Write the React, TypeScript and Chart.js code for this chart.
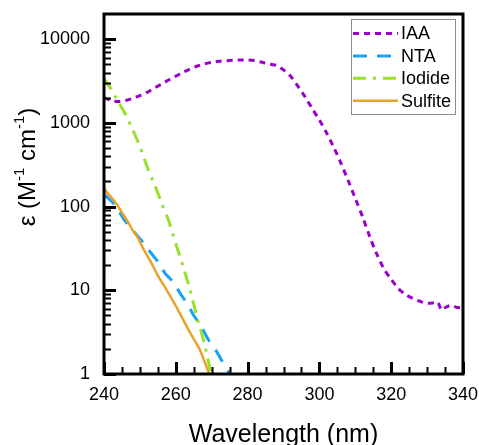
import React, { useEffect, useRef } from 'react';
import { Chart, registerables } from 'chart.js';

Chart.register(...registerables);

const FONT = '"Liberation Sans", Arial, Helvetica, sans-serif';

// ---- data ----
const iaaWavelength = [240, 242, 244, 246, 248, 250, 252, 254, 256, 258, 260, 262, 264, 266, 268, 270, 272, 274, 276, 278, 280, 282, 284, 286, 288, 290, 292, 294, 296, 298, 300, 302, 304, 306, 308, 310, 312, 314, 316, 318, 320, 322, 324, 326, 328, 330, 332, 333, 334, 335, 336, 337, 338, 340];
const iaaEpsilon = [2000, 1850, 1800, 1850, 1970, 2120, 2320, 2600, 2900, 3250, 3620, 4020, 4420, 4780, 5080, 5300, 5440, 5530, 5600, 5640, 5650, 5550, 5300, 5050, 4870, 4300, 3600, 2750, 2050, 1480, 1080, 760, 510, 330, 205, 125, 76, 44, 27, 18, 13.5, 10.5, 8.9, 8.0, 7.4, 7.0, 7.1, 7.2, 5.8, 6.2, 6.5, 6.6, 6.3, 6.1];

const ntaWavelength = [240, 241, 243, 245.6, 248, 250.3, 252, 255, 257, 259.5, 261, 263.2, 265, 267.4, 269, 271.2, 273, 275];
const ntaEpsilon = [140, 128, 105, 70, 52, 40, 32, 22, 16, 12.3, 9.5, 6.9, 5, 3.5, 2.6, 1.9, 1.4, 1.0];

const iodideWavelength = [240, 242, 244, 246, 248, 250, 252, 254, 256, 258, 260, 262, 264, 266, 268, 269.8];
const iodideEpsilon = [3390, 2510, 1780, 1260, 830, 525, 300, 186, 112, 68, 36, 19.5, 10, 4.6, 2.3, 1.0];

const sulfiteWavelength = [240, 241, 243, 245, 247, 248, 249.5, 251, 253, 255, 257.5, 260, 262, 264, 266.7, 269.3];
const sulfiteEpsilon = [165, 145, 115, 85, 62, 52, 42, 31, 22, 15, 10, 6.5, 4.5, 3.1, 1.95, 1.0];

const seriesLabels = ['IAA', 'NTA', 'Iodide', 'Sulfite'];
const xTickValues = [240, 260, 280, 300, 320, 340];
const yTickValues = [1, 10, 100, 1000, 10000];
const xMin = 240;
const xMax = 340;
const yMin = 1;
const yMax = 20000;
const xMinorStep = 5;

const xTitle = 'Wavelength (nm)';

const toPoints = (xs: number[], ys: number[]) => xs.map((x, i) => ({ x, y: ys[i] }));

const decorPlugin = {
  id: 'decor',
  afterDatasetsDraw(chart: any) {
    const { ctx, chartArea: a, scales } = chart;
    const xs = scales.x;
    const ys = scales.y;
    ctx.save();
    ctx.strokeStyle = '#000';
    ctx.lineCap = 'butt';
    // x ticks (inward)
    for (let v = xMin; v <= xMax; v += xMinorStep) {
      const px = Math.round(xs.getPixelForValue(v)) + 0.5;
      const major = xTickValues.includes(v);
      ctx.lineWidth = major ? 3 : 2;
      ctx.beginPath();
      ctx.moveTo(px, a.bottom);
      ctx.lineTo(px, a.bottom - (major ? 12 : 7));
      ctx.stroke();
    }
    // y ticks (inward, log minors)
    for (const d of yTickValues) {
      for (let m = 1; m <= 9; m++) {
        const v = d * m;
        if (v >= yMax) break;
        const py = Math.round(ys.getPixelForValue(v)) + 0.5;
        const major = m === 1;
        ctx.lineWidth = major ? 3 : 2;
        ctx.beginPath();
        ctx.moveTo(a.left, py);
        ctx.lineTo(a.left + (major ? 12 : 7), py);
        ctx.stroke();
      }
    }
    // frame
    ctx.lineWidth = 3;
    ctx.strokeRect(a.left, a.top, a.right - a.left, a.bottom - a.top);

    // x title
    ctx.fillStyle = '#000';
    ctx.font = `25px ${FONT}`;
    ctx.textAlign = 'center';
    ctx.textBaseline = 'alphabetic';
    ctx.fillText(xTitle, (a.left + a.right) / 2, 442);

    // y title with superscripts
    const parts: { t: string; sup: boolean }[] = [
      { t: 'ε (M', sup: false },
      { t: '-1', sup: true },
      { t: ' cm', sup: false },
      { t: '-1', sup: true },
      { t: ')', sup: false },
    ];
    const mainFont = `24px ${FONT}`;
    const supFont = `15px ${FONT}`;
    let total = 0;
    for (const p of parts) {
      ctx.font = p.sup ? supFont : mainFont;
      total += ctx.measureText(p.t).width;
    }
    ctx.save();
    ctx.translate(35, 167);
    ctx.rotate(-Math.PI / 2);
    ctx.textAlign = 'left';
    let cx = -total / 2;
    for (const p of parts) {
      ctx.font = p.sup ? supFont : mainFont;
      ctx.fillText(p.t, cx, p.sup ? -11 : 0);
      cx += ctx.measureText(p.t).width;
    }
    ctx.restore();

    // legend
    const bw = 104;
    const bh = 95;
    const bx = a.right - 8 - bw;
    const by = a.top + 5;
    ctx.fillStyle = '#fff';
    ctx.fillRect(bx, by, bw, bh);
    ctx.strokeStyle = '#8c8c8c';
    ctx.lineWidth = 1;
    ctx.strokeRect(bx + 0.5, by + 0.5, bw, bh);
    chart.data.datasets.forEach((ds: any, i: number) => {
      const ry = by + 14.5 + i * 22.4;
      ctx.save();
      ctx.strokeStyle = ds.borderColor;
      ctx.lineWidth = ds.borderWidth;
      ctx.setLineDash(ds.borderDash || []);
      ctx.beginPath();
      ctx.moveTo(bx + 2, ry);
      ctx.lineTo(bx + 47, ry);
      ctx.stroke();
      ctx.restore();
      ctx.fillStyle = '#000';
      ctx.font = `18px ${FONT}`;
      ctx.textAlign = 'left';
      ctx.textBaseline = 'middle';
      ctx.fillText(ds.label, bx + 50, ry + 1);
    });
    ctx.restore();
  },
};

export default function App() {
  const ref = useRef<HTMLCanvasElement | null>(null);
  useEffect(() => {
    if (!ref.current) return;
    const chart = new Chart(ref.current, {
      type: 'line',
      data: {
        datasets: [
          {
            label: seriesLabels[0],
            data: toPoints(iaaWavelength, iaaEpsilon),
            borderColor: '#9a00cc',
            borderWidth: 3,
            borderDash: [6, 5],
            pointRadius: 0,
            tension: 0.3,
            fill: false,
            order: 3,
          },
          {
            label: seriesLabels[1],
            data: toPoints(ntaWavelength, ntaEpsilon),
            borderColor: '#1aa3f2',
            borderWidth: 3,
            borderDash: [14, 10],
            pointRadius: 0,
            tension: 0.2,
            fill: false,
            order: 2,
          },
          {
            label: seriesLabels[2],
            data: toPoints(iodideWavelength, iodideEpsilon),
            borderColor: '#99e02a',
            borderWidth: 3,
            borderDash: [13, 7, 3, 7],
            pointRadius: 0,
            tension: 0.2,
            fill: false,
            order: 1,
          },
          {
            label: seriesLabels[3],
            data: toPoints(sulfiteWavelength, sulfiteEpsilon),
            borderColor: '#e8a42a',
            borderWidth: 2.5,
            pointRadius: 0,
            tension: 0.2,
            fill: false,
            order: 0,
          },
        ],
      },
      options: {
        responsive: false,
        animation: false,
        layout: { padding: { top: 14, right: 16, left: 0, bottom: 0 } },
        plugins: { legend: { display: false }, tooltip: { enabled: false } },
        scales: {
          x: {
            type: 'linear',
            min: xMin,
            max: xMax,
            afterBuildTicks: (s: any) => {
              s.ticks = xTickValues.map((v) => ({ value: v }));
            },
            ticks: {
              font: { family: FONT, size: 18 },
              color: '#000',
              padding: 10,
              maxRotation: 0,
              autoSkip: false,
            },
            grid: { display: false, drawTicks: false },
            border: { display: false },
            afterFit: (s: any) => {
              s.height = 71;
              s.paddingLeft = 0;
              s.paddingRight = 0;
              s.paddingTop = 0;
              s.paddingBottom = 0;
            },
          },
          y: {
            type: 'logarithmic',
            min: yMin,
            max: yMax,
            afterBuildTicks: (s: any) => {
              s.ticks = yTickValues.map((v) => ({ value: v }));
            },
            ticks: {
              font: { family: FONT, size: 18 },
              color: '#000',
              padding: 14,
              autoSkip: false,
              callback: (v: any) => String(v),
            },
            grid: { display: false, drawTicks: false },
            border: { display: false },
            afterFit: (s: any) => {
              s.width = 104;
              s.paddingLeft = 0;
              s.paddingRight = 0;
              s.paddingTop = 0;
              s.paddingBottom = 0;
            },
          },
        },
      },
      plugins: [decorPlugin],
    });
    return () => chart.destroy();
  }, []);
  return (
    <div style={{ position: 'absolute', left: 0, top: 0, width: 479, height: 445, background: '#fff' }}>
      <canvas ref={ref} width={479} height={445} style={{ display: 'block' }} />
    </div>
  );
}
